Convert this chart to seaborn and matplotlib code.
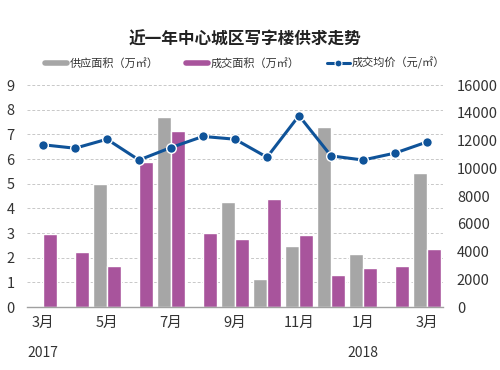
import numpy as np
import pandas as pd
import matplotlib
matplotlib.use("Agg")
import matplotlib.pyplot as plt
from matplotlib.lines import Line2D
import matplotlib.transforms as mtransforms
import seaborn as sns

months = ["3月", "4月", "5月", "6月", "7月", "8月", "9月", "10月", "11月", "12月", "1月", "2月", "3月"]
month_keys = [f"m{i}" for i in range(13)]
supply = [0, 0, 5.0, 0, 7.7, 0, 4.25, 1.15, 2.46, 7.3, 2.17, 0, 5.44]
deals = [2.96, 2.24, 1.66, 5.88, 7.12, 3.0, 2.75, 4.4, 2.94, 1.32, 1.57, 1.67, 2.35]
price = [11700, 11450, 12100, 10600, 11500, 12300, 12100, 10800, 13800, 10900, 10600, 11100, 11900]
shown_ticks = ["3月", "", "5月", "", "7月", "", "9月", "", "11月", "", "1月", "", "3月"]
years = [(0, "2017"), (10, "2018")]

title = "近一年中心城区写字楼供求走势"
s_supply = "供应面积（万㎡）"
s_deals = "成交面积（万㎡）"
s_price = "成交均价（元/㎡）"

sns.set_theme(style="white")
plt.rcParams["font.family"] = ["Noto Sans CJK SC", "DejaVu Sans"]

c_gray = "#a6a6a6"
c_purple = "#a8549c"
c_blue = "#0f5399"

df = pd.DataFrame({
    "month": month_keys * 2,
    "value": supply + deals,
    "series": [s_supply] * 13 + [s_deals] * 13,
})

fig = plt.figure(figsize=(5, 3.7), dpi=100)
ax = fig.add_axes([0.054, 0.170, 0.832, 0.600])
sns.barplot(data=df, x="month", y="value", hue="series", order=month_keys,
            hue_order=[s_supply, s_deals], palette=[c_gray, c_purple],
            width=0.875, ax=ax, legend=False, saturation=1)
ax.set_ylim(0, 9)
ax.set_xlim(-0.5, 12.5)
ax.set_yticks(range(0, 10))
ax.set_xticks(range(13))
ax.set_xticklabels(shown_ticks)
ax.set_xlabel("")
ax.set_ylabel("")
ax.grid(axis="y", linestyle=(0, (3, 2)), color="#c8c8c8", linewidth=0.7)
ax.set_axisbelow(True)
for s in ["top", "right", "left"]:
    ax.spines[s].set_visible(False)
ax.spines["bottom"].set_color("#a0a0a0")
ax.spines["bottom"].set_linewidth(1.0)
ax.tick_params(axis="both", length=0, labelsize=10.5, colors="#333333")
ax.tick_params(axis="y", pad=9)
ax.tick_params(axis="x", pad=6)

ax2 = ax.twinx()
sns.lineplot(x=np.arange(13), y=price, ax=ax2, color=c_blue, linewidth=2.2,
             marker="o", markersize=7, markeredgecolor="white", markeredgewidth=1.0)
ax2.set_ylim(0, 16000)
ax2.set_yticks(range(0, 16001, 2000))
ax2.set_xlim(-0.5, 12.5)
for s in ["top", "right", "left", "bottom"]:
    ax2.spines[s].set_visible(False)
ax2.tick_params(axis="y", length=0, labelsize=10.5, colors="#333333", pad=10)
ax2.grid(False)

trans = mtransforms.blended_transform_factory(ax.transData, ax.transAxes)
for xi, yr in years:
    ax.text(xi, -0.205, yr, transform=trans, ha="center", va="center", fontsize=10, color="#333333")

fig.text(0.49, 0.892, title, ha="center", va="center", fontsize=12, fontweight="bold", color="#222222")

handles = [
    Line2D([0], [0], color=c_gray, linewidth=4),
    Line2D([0], [0], color=c_purple, linewidth=4),
    Line2D([0], [0], color=c_blue, linewidth=2.2, marker="o", markersize=5,
           markeredgecolor="white", markeredgewidth=0.8),
]
fig.legend(handles, [s_supply, s_deals, s_price], loc="center", bbox_to_anchor=(0.49, 0.83),
           ncol=3, frameon=False, fontsize=8, handlelength=2.0, handletextpad=0.2,
           columnspacing=2.5, labelcolor="#333333")

fig.savefig("out.png", dpi=100)
